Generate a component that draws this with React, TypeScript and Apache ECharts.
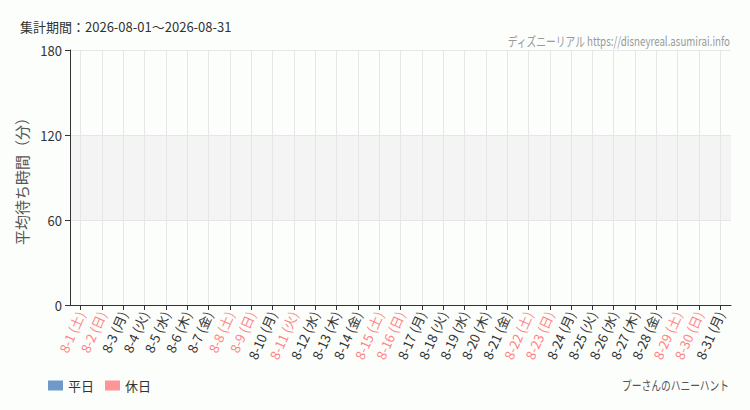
import React, { useEffect, useRef } from "react";
import * as echarts from "echarts";

const periodText = "集計期間：2026-08-01～2026-08-31";
const siteText = "ディズニーリアル https://disneyreal.asumirai.info";
const attractionName = "プーさんのハニーハント";
const yAxisName = "平均待ち時間（分）";

const dayLabels = [
  "8-1 (土)", "8-2 (日)", "8-3 (月)", "8-4 (火)", "8-5 (水)", "8-6 (木)", "8-7 (金)",
  "8-8 (土)", "8-9 (日)", "8-10 (月)", "8-11 (火)", "8-12 (水)", "8-13 (木)", "8-14 (金)",
  "8-15 (土)", "8-16 (日)", "8-17 (月)", "8-18 (火)", "8-19 (水)", "8-20 (木)", "8-21 (金)",
  "8-22 (土)", "8-23 (日)", "8-24 (月)", "8-25 (火)", "8-26 (水)", "8-27 (木)", "8-28 (金)",
  "8-29 (土)", "8-30 (日)", "8-31 (月)",
];
const isHoliday = [
  true, true, false, false, false, false, false,
  true, true, false, true, false, false, false,
  true, true, false, false, false, false, false,
  true, true, false, false, false, false, false,
  true, true, false,
];
const weekdayValues = [
  null, null, null, null, null, null, null, null, null, null, null,
  null, null, null, null, null, null, null, null, null, null, null,
  null, null, null, null, null, null, null, null, null,
];
const holidayValues = [
  null, null, null, null, null, null, null, null, null, null, null,
  null, null, null, null, null, null, null, null, null, null, null,
  null, null, null, null, null, null, null, null, null,
];
const yTicks = { min: 0, max: 180, interval: 60 };

const FONT = "'Noto Sans CJK JP', 'Noto Sans', sans-serif";

export default function App() {
  const ref = useRef<HTMLDivElement>(null);
  useEffect(() => {
    document.body.style.margin = "0";
    if (!ref.current) return;
    const chart = echarts.init(ref.current, undefined, { renderer: "svg" });
    chart.setOption({
      animation: false,
      backgroundColor: "#fcfefc",
      textStyle: { fontFamily: FONT },
      grid: { left: 70, right: 19, top: 50, bottom: 105, containLabel: false },
      legend: {
        left: 48,
        top: 379,
        padding: 0,
        itemWidth: 15,
        itemHeight: 10,
        itemGap: 11,
        icon: "rect",
        textStyle: { color: "#333", fontSize: 13, fontFamily: FONT },
        data: ["平日", "休日"],
      },
      xAxis: {
        type: "category",
        boundaryGap: true,
        data: dayLabels.map((d, i) => ({
          value: d,
          textStyle: { color: isHoliday[i] ? "#ff8585" : "#333" },
        })),
        axisLine: { show: true, lineStyle: { color: "#333", width: 1 } },
        axisTick: { show: true, alignWithLabel: true, length: 5, lineStyle: { color: "#333" } },
        axisLabel: {
          interval: 0,
          rotate: 66,
          fontSize: 13,
          margin: 7,
          fontFamily: FONT,
        },
        splitLine: { show: false },
        splitArea: { show: false },
      },
      yAxis: {
        type: "value",
        min: yTicks.min,
        max: yTicks.max,
        interval: yTicks.interval,
        name: yAxisName,
        nameLocation: "middle",
        nameGap: 31,
        nameRotate: 90,
        nameTextStyle: { color: "#555", fontSize: 15, fontFamily: FONT },
        axisLine: { show: true, lineStyle: { color: "#333", width: 1 } },
        axisTick: { show: true, length: 5, lineStyle: { color: "#333" } },
        axisLabel: { color: "#333", fontSize: 13, margin: 8, fontFamily: FONT },
        splitLine: { show: true, lineStyle: { color: "#e6e6e6", width: 1 } },
        splitArea: {
          show: true,
          areaStyle: { color: ["rgba(0,0,0,0)", "#f3f4f3", "rgba(0,0,0,0)"] },
        },
      },
      series: [
        {
          name: "平日",
          type: "bar",
          stack: "all",
          data: weekdayValues,
          itemStyle: { color: "#6f9ac8" },
          markLine: {
            silent: true,
            symbol: "none",
            label: { show: false },
            lineStyle: { color: "#e6e6e6", width: 1, type: "solid" },
            data: dayLabels.map((d) => ({ xAxis: d })),
          },
        },
        {
          name: "休日",
          type: "bar",
          stack: "all",
          data: holidayValues,
          itemStyle: { color: "#ff9696" },
        },
      ],
      graphic: [
        {
          type: "text",
          x: 20,
          y: 26,
          style: {
            text: periodText,
            fill: "#333",
            fontSize: 13,
            fontFamily: FONT,
            verticalAlign: "middle",
            align: "left",
          },
        },
        {
          type: "text",
          x: 730,
          y: 40,
          scaleX: 0.75,
          style: {
            text: siteText,
            fill: "#999",
            fontSize: 13,
            fontFamily: FONT,
            verticalAlign: "middle",
            align: "right",
          },
        },
        {
          type: "text",
          x: 729,
          y: 384,
          scaleX: 0.75,
          style: {
            text: attractionName,
            fill: "#555",
            fontSize: 13,
            fontFamily: FONT,
            verticalAlign: "middle",
            align: "right",
          },
        },
      ],
    });
    return () => chart.dispose();
  }, []);
  return <div ref={ref} style={{ width: 750, height: 410 }} />;
}
